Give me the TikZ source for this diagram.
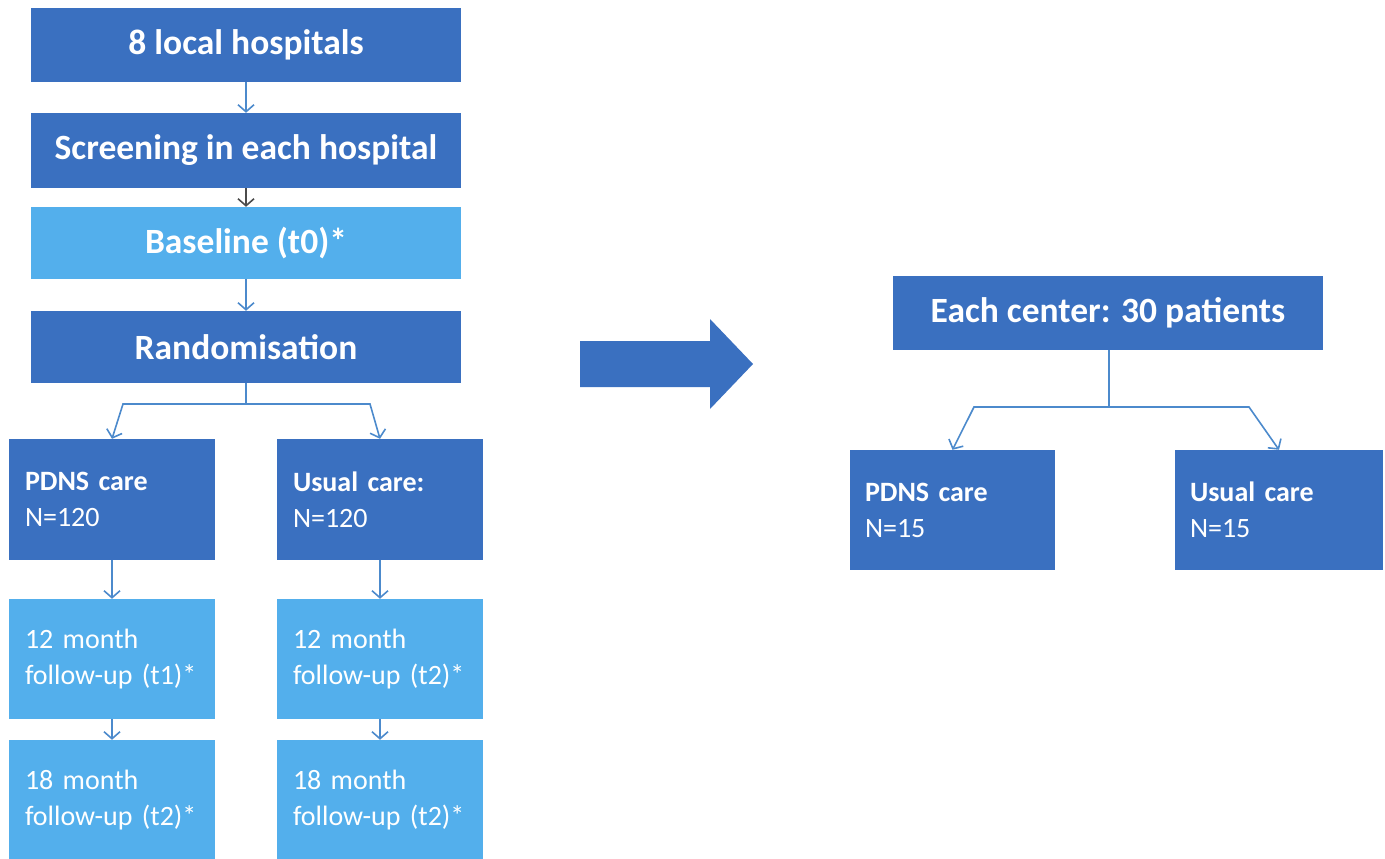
\documentclass[tikz,border=0pt]{standalone}
\usepackage{fontspec}
\setmainfont{Carlito}
\usetikzlibrary{arrows.meta}

\definecolor{darkbox}{RGB}{58,112,192}
\definecolor{lightbox}{RGB}{83,175,236}
\definecolor{linkblue}{RGB}{76,138,204}

\begin{document}
\begin{tikzpicture}[x=1pt, y=-1pt,
	bigbox/.style={fill=darkbox, text=white, minimum width=430pt, inner sep=0pt,
		font=\fontsize{35.5}{40}\selectfont\bfseries},
	smallbox/.style={fill=darkbox, text=white, text width=174pt, inner xsep=16pt, inner ysep=0pt,
		minimum height=121pt, align=left, font=\fontsize{28}{36}\selectfont},
	conn/.style={draw=linkblue, line width=1.6pt, -{Straight Barb[length=7pt, width=16pt]}},
	link/.style={draw=linkblue, line width=1.6pt}]

	\useasboundingbox (0,0) rectangle (1385,859);

	% left flow
	\node[bigbox, minimum height=74pt] (hosp) at (246,45) {8 local hospitals};
	\node[bigbox, minimum height=75pt] (screen) at (246,150.5) {Screening in each hospital};
	\node[bigbox, fill=lightbox, minimum height=72pt] (base) at (246,243) {Baseline (t0)*};
	\node[bigbox, minimum height=72pt] (rand) at (246,347) {Randomisation};

	\node[smallbox] (pdns) at (112,499.5) {\textbf{PDNS care}\\N=120};
	\node[smallbox] (usual) at (380,499.5) {\textbf{Usual care:}\\N=120};
	\node[smallbox, fill=lightbox, minimum height=120pt] (pdnsA) at (112,659) {12 month\\follow-up (t1)*};
	\node[smallbox, fill=lightbox, minimum height=120pt] (usualA) at (380,659) {12 month\\follow-up (t2)*};
	\node[smallbox, fill=lightbox, minimum height=120pt] (pdnsB) at (112,800) {18 month\\follow-up (t2)*};
	\node[smallbox, fill=lightbox, minimum height=120pt] (usualB) at (380,800) {18 month\\follow-up (t2)*};

	\draw[conn] (hosp) -- (screen);
	\draw[conn, draw=black!70] (screen) -- (base);
	\draw[conn] (base) -- (rand);

	\coordinate (split) at (246,404);
	\coordinate (splitL) at (123,404);
	\coordinate (splitR) at (370,404);
	\draw[link] (rand.south) -- (split);
	\draw[conn] (split) -- (splitL) -- (pdns.north);
	\draw[conn] (split) -- (splitR) -- (usual.north);

	\draw[conn] (pdns) -- (pdnsA);
	\draw[conn] (usual) -- (usualA);
	\draw[conn] (pdnsA) -- (pdnsB);
	\draw[conn] (usualA) -- (usualB);

	% big arrow
	\fill[darkbox] (580,341) -- (710,341) -- (710,319) -- (753,364) -- (710,409) -- (710,387) -- (580,387) -- cycle;

	% right flow
	\node[bigbox, minimum height=74pt] (center) at (1108,313) {Each center: 30 patients};
	\node[smallbox, text width=175pt, inner xsep=15pt, minimum height=120pt] (rpdns) at (952.5,510) {\textbf{PDNS care}\\N=15};
	\node[smallbox, text width=178pt, inner xsep=15pt, minimum height=120pt] (rusual) at (1279,510) {\textbf{Usual care}\\N=15};

	\coordinate (rsplit) at (1109,407);
	\coordinate (rsplitL) at (974,407);
	\coordinate (rsplitR) at (1249,407);
	\draw[link] (center.south -| rsplit) -- (rsplit);
	\draw[conn] (rsplit) -- (rsplitL) -- (rpdns.north);
	\draw[conn] (rsplit) -- (rsplitR) -- (rusual.north);

\end{tikzpicture}
\end{document}
